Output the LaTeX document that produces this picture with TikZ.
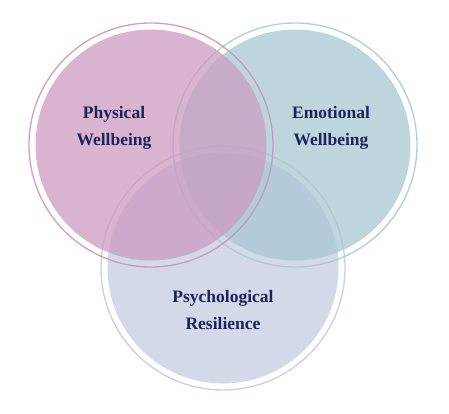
\documentclass[tikz,border=0pt]{standalone}
\usepackage{fontspec}
\setmainfont{Liberation Serif}
\usepackage{xcolor}
\definecolor{pinkfill}{RGB}{204,155,194}
\definecolor{tealfill}{RGB}{167,200,211}
\definecolor{lavfill}{RGB}{196,204,224}
\definecolor{pinkring}{RGB}{203,146,189}
\definecolor{tealring}{RGB}{168,200,210}
\definecolor{lavring}{RGB}{195,202,224}
\definecolor{navy}{RGB}{28,36,88}
\begin{document}
\begin{tikzpicture}[x=1pt,y=-1pt,
  disc/.style={circle,minimum size=231pt,inner sep=0pt,fill opacity=0.75},
  ring/.style={line width=1.3pt,draw opacity=0.9},
  lbl/.style={text=navy,font=\fontsize{17.5}{27}\selectfont\bfseries,align=center}]
\useasboundingbox (0,0) rectangle (449,414);
% lavender (bottom)
\node[disc,fill=lavfill] (lav) at (223,268) {};
\draw[ring,lavring] (lav.center) circle[radius=122];
% teal
\node[disc,fill=tealfill] (teal) at (295,145) {};
\draw[ring,tealring] (teal.center) circle[radius=122];
% pink (top)
\node[disc,fill=pinkfill] (pink) at (151,145) {};
\draw[ring,pinkring] (pink.center) circle[radius=122];
% labels
\node[lbl] (tp) at (114,128) {Physical\\Wellbeing};
\node[lbl] (te) at (331,128) {Emotional\\Wellbeing};
\node[lbl] (tr) at (223,310) {Psychological\\Resilience};
\end{tikzpicture}
\end{document}
